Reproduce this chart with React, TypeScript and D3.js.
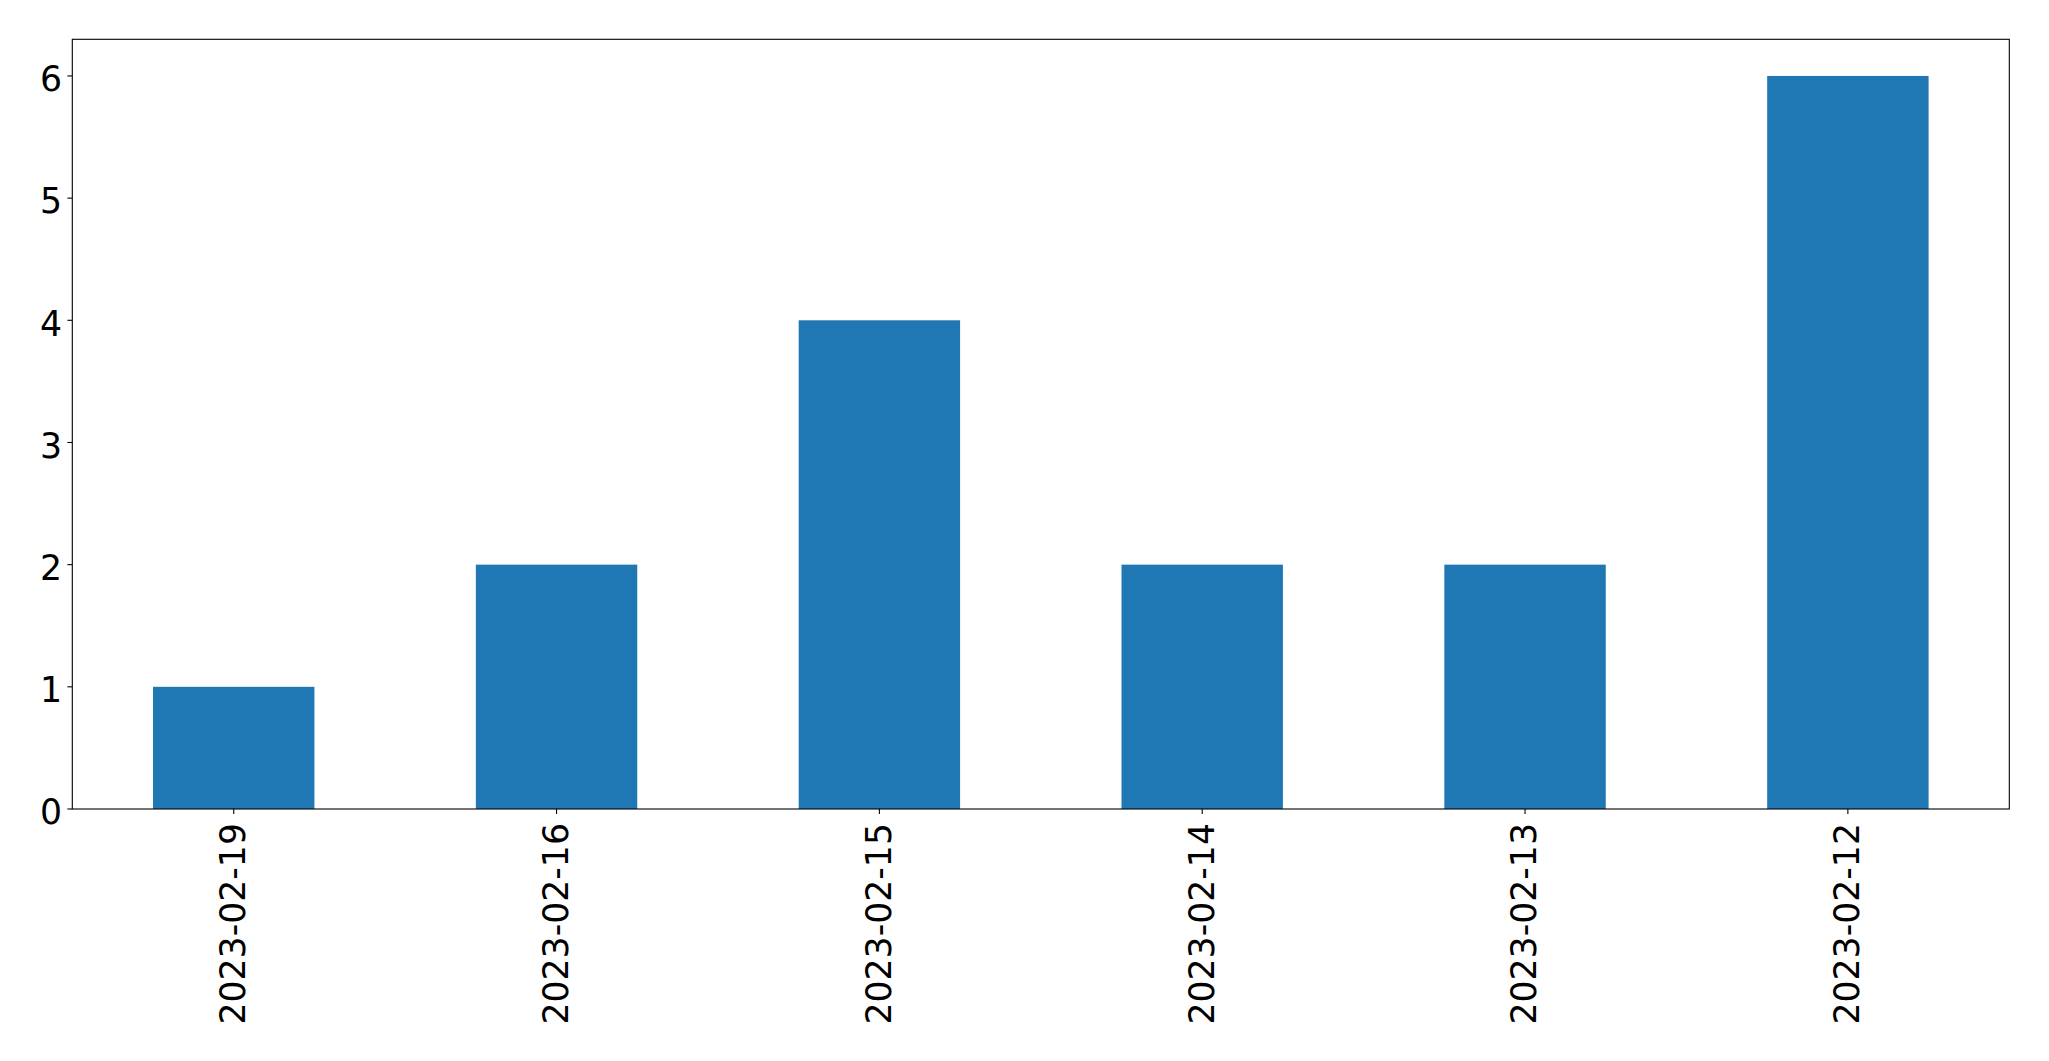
import React from "react";
import * as d3 from "d3";

const categories = ["2023-02-19", "2023-02-16", "2023-02-15", "2023-02-14", "2023-02-13", "2023-02-12"];
const counts = [1, 2, 4, 2, 2, 6];
const yTicks = [0, 1, 2, 3, 4, 5, 6];

const W = 2049;
const H = 1061;
const left = 72.3;
const right = 2009.3;
const top = 39.3;
const bottom = 809;
const FONT = "'DejaVu Sans', sans-serif";
const FS = 34.7;

export default function App() {
  const x = d3.scaleLinear().domain([-0.5, categories.length - 0.5]).range([left, right]);
  const y = d3.scaleLinear().domain([0, 6.3]).range([bottom, top]);
  const bw = x(0.25) - x(-0.25);
  return (
    <svg width={W} height={H} style={{ position: "absolute", left: 0, top: 0, background: "#fff" }}>
      <rect x={0} y={0} width={W} height={H} fill="#fff" />
      {counts.map((v, i) => (
        <rect key={i} x={x(i) - bw / 2} y={y(v)} width={bw} height={y(0) - y(v)} fill="#1f77b4" />
      ))}
      <rect x={left} y={top} width={right - left} height={bottom - top} fill="none" stroke="#000" strokeWidth={1.1} />
      {yTicks.map((t) => (
        <g key={t}>
          <line x1={left - 4.9} x2={left} y1={y(t)} y2={y(t)} stroke="#000" strokeWidth={1.1} />
          <text x={62} y={y(t) + 15.3} textAnchor="end" fontFamily={FONT} fontSize={FS} fill="#000">
            {t}
          </text>
        </g>
      ))}
      {categories.map((c, i) => (
        <g key={c}>
          <line x1={x(i)} x2={x(i)} y1={bottom} y2={bottom + 4.9} stroke="#000" strokeWidth={1.1} />
          <text
            transform={`translate(${x(i) + 11.3},${bottom + 14}) rotate(-90)`}
            textAnchor="end"
            fontFamily={FONT}
            fontSize={FS}
            fill="#000"
          >
            {c}
          </text>
        </g>
      ))}
    </svg>
  );
}
